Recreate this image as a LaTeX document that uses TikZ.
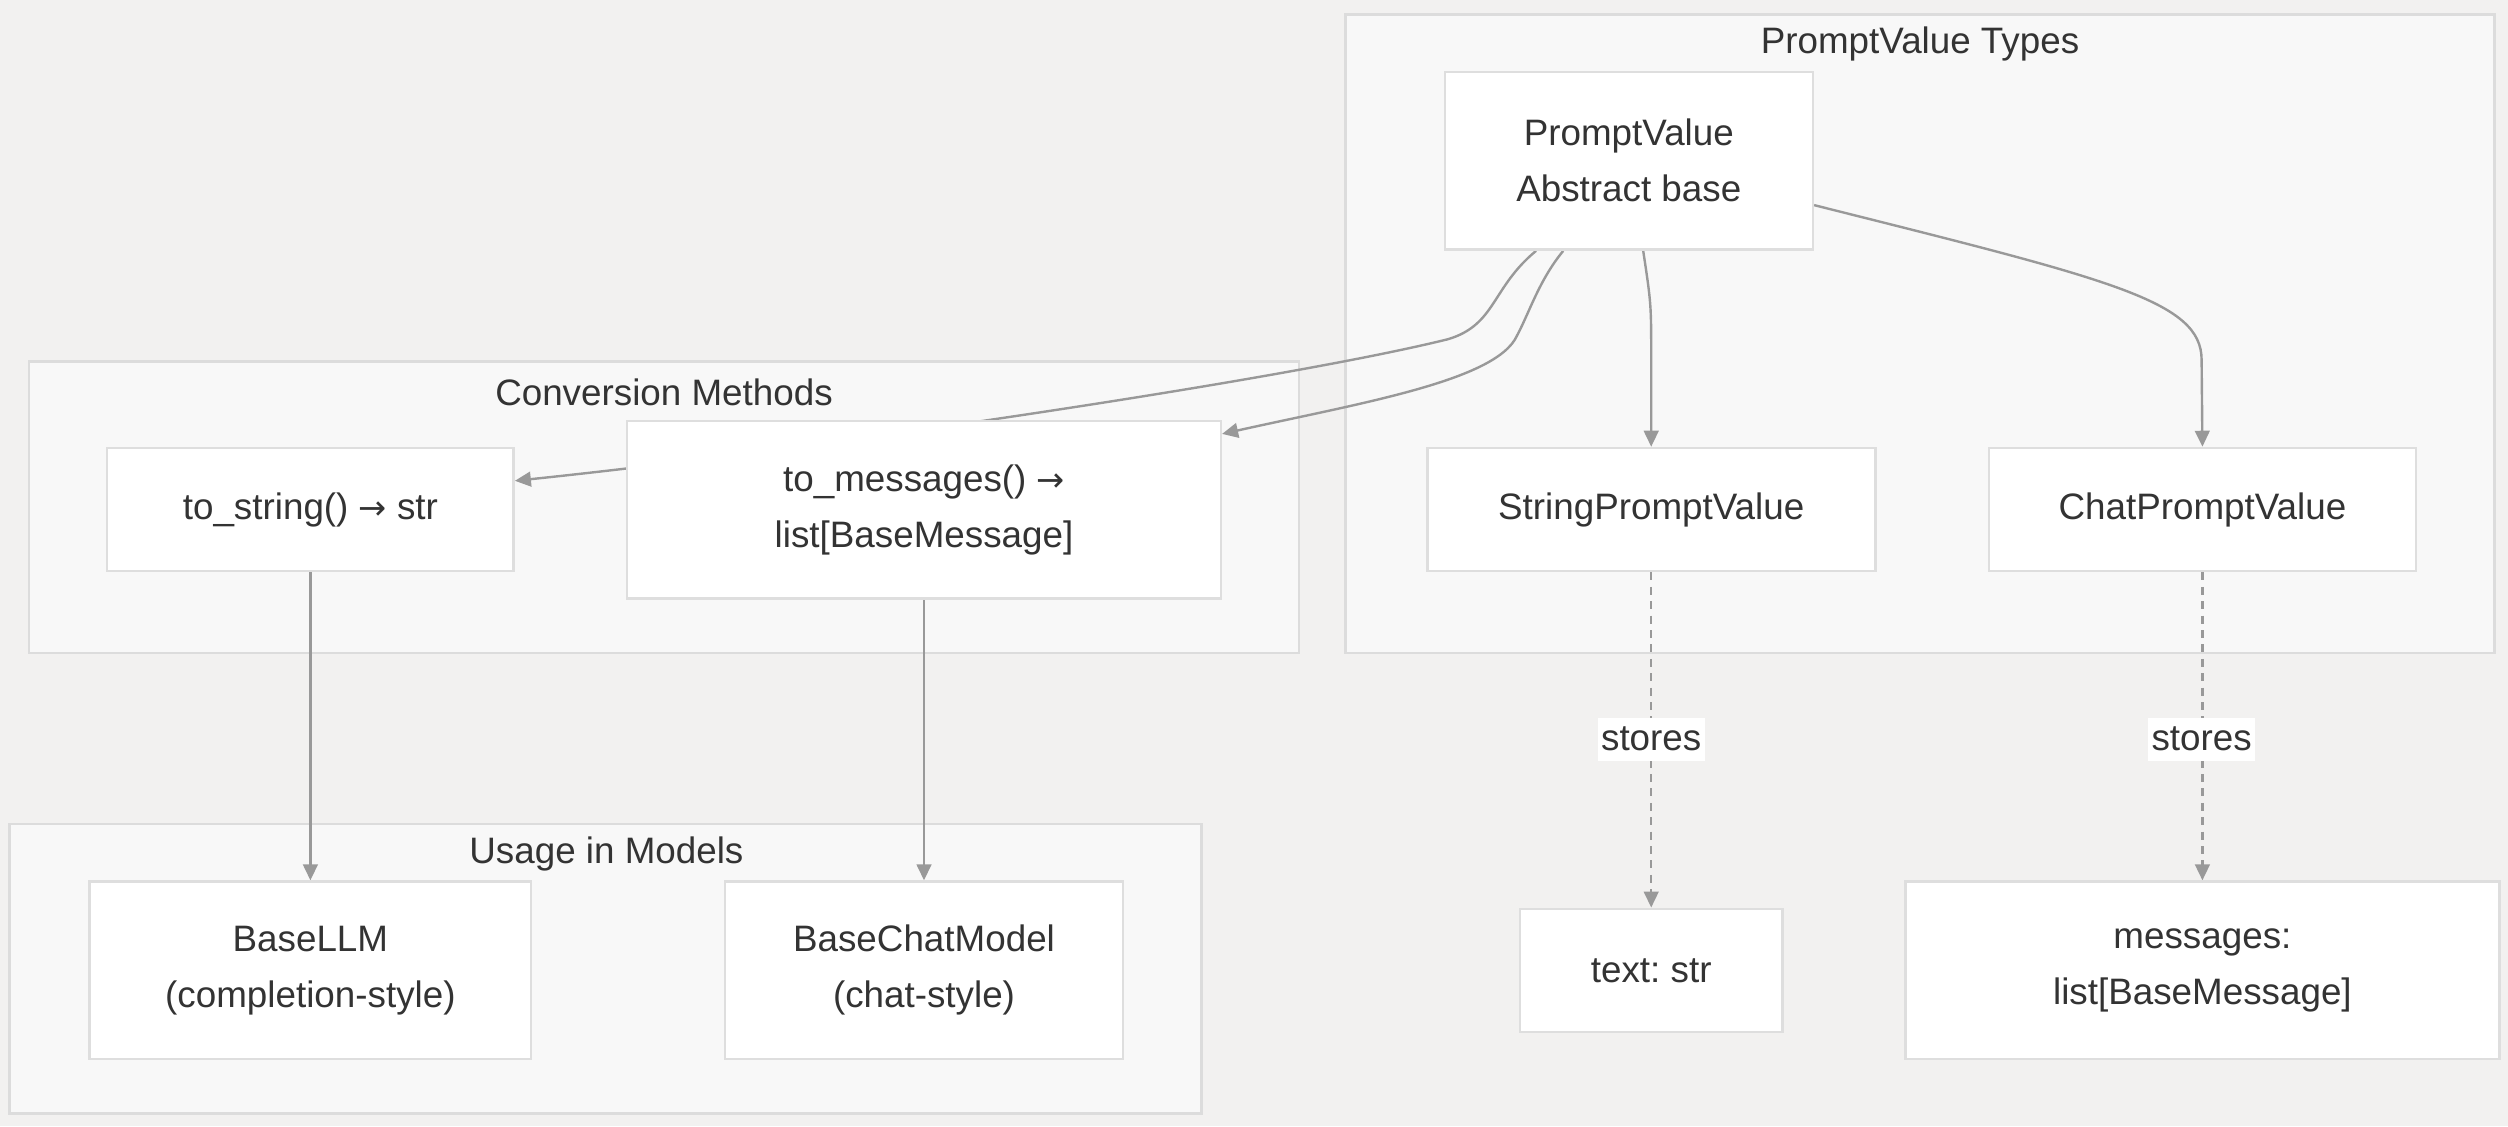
\documentclass[tikz,border=0pt]{standalone}
\usepackage{fontspec}
\setmainfont{Liberation Sans}
\newfontfamily\arrfont{DejaVu Sans}
\usetikzlibrary{arrows.meta}
\pgfdeclarelayer{bgl}
\pgfdeclarelayer{clusters}
\pgfdeclarelayer{edges}
\pgfsetlayers{bgl,clusters,edges,main}
\frenchspacing
\definecolor{bgc}{RGB}{242,241,240}
\definecolor{clfill}{RGB}{248,248,248}
\definecolor{clline}{RGB}{220,220,220}
\definecolor{nline}{RGB}{222,222,222}
\definecolor{edgec}{RGB}{153,153,153}
\definecolor{txt}{RGB}{51,51,51}
\newcommand{\ar}{{\arrfont\fontsize{10.5}{17.5}\selectfont →}}
\tikzset{
  x=0.5pt, y=-0.5pt,
  box/.style={draw=nline, line width=0.8pt, fill=white, text=txt, align=center,
    font=\fontsize{11.5}{17.5}\selectfont, inner sep=0pt},
  cluster/.style={draw=clline, line width=0.8pt, fill=clfill},
  cltitle/.style={text=txt, font=\fontsize{11.5}{14}\selectfont, inner sep=0pt},
  conn/.style={draw=edgec, line width=0.75pt, -{Triangle[length=5pt,width=4.6pt]}},
  dconn/.style={conn, dash pattern=on 2.5pt off 2pt},
  lbl/.style={fill=white, text=txt, font=\fontsize{11.5}{14}\selectfont, inner xsep=1pt, inner ysep=3pt}
}
\begin{document}
\begin{tikzpicture}
\begin{pgfonlayer}{bgl}
\fill[bgc] (0,0) rectangle (1567.5,703.75);
\end{pgfonlayer}
\useasboundingbox (0,0) rectangle (1567.5,703.75);

% clusters
\begin{pgfonlayer}{clusters}
\draw[cluster] (841,9) rectangle (1559,408);
\draw[cluster] (18,226) rectangle (812,408);
\draw[cluster] (6,515) rectangle (751,696);
\end{pgfonlayer}
\node[cltitle] (t1) at (1200,27.5) {PromptValue Types};
\node[cltitle] (t2) at (415,245.5) {Conversion Methods};
\node[cltitle] (t3) at (379,533.5) {Usage in Models};

% nodes
\node[box, minimum width=115pt, minimum height=55.5pt] (pv) at (1018,100.5) {PromptValue\\Abstract base};
\node[box, minimum width=140pt, minimum height=38.5pt] (spv) at (1032,318.5) {StringPromptValue};
\node[box, minimum width=133.5pt, minimum height=38.5pt] (cpv) at (1376.5,318.5) {ChatPromptValue};
\node[box, minimum width=127pt, minimum height=38.5pt] (ts) at (194,318.5) {to\_string() \ar{} str};
\node[box, minimum width=185.5pt, minimum height=55.5pt] (tm) at (577.5,318.5) {to\_messages() \ar\\list[BaseMessage]};
\node[box, minimum width=138pt, minimum height=55.5pt] (llm) at (194,606.5) {BaseLLM\\(completion-style)};
\node[box, minimum width=124.5pt, minimum height=55.5pt] (chat) at (577.5,606.5) {BaseChatModel\\(chat-style)};
\node[box, minimum width=82pt, minimum height=38.5pt] (txt) at (1032,606.5) {text: str};
\node[box, minimum width=185.5pt, minimum height=55.5pt] (msg) at (1376.5,606.5) {messages:\\list[BaseMessage]};

% edges
\begin{pgfonlayer}{edges}
\draw[conn] ([xshift=-29pt]pv.south) .. controls (932,180) and (935,203) .. (905,212)
  .. controls (800,238) and (500,282) .. ([yshift=9pt]ts.east);
\draw[conn] ([xshift=-20.5pt]pv.south) .. controls (962,175) and (956,195) .. (948,210)
  .. controls (935,238) and (850,252) .. ([yshift=-4.5pt]tm.north east);
\draw[conn] ([xshift=4.5pt]pv.south) .. controls (1032,190) .. (1032,225) -- (spv.north);
\draw[conn] ([yshift=-42pt]pv.north east) .. controls (1320,175) and (1376,188) .. (1376,225) -- (cpv.north);
\draw[conn] (ts.south) -- (llm.north);
\draw[conn] (tm.south) -- (chat.north);
\draw[dconn] (spv.south) -- (txt.north);
\draw[dconn] (cpv.south) -- (msg.north);
\end{pgfonlayer}
\node[lbl] (s1) at (1032,462) {stores};
\node[lbl] (s2) at (1376,462) {stores};
\end{tikzpicture}
\end{document}
